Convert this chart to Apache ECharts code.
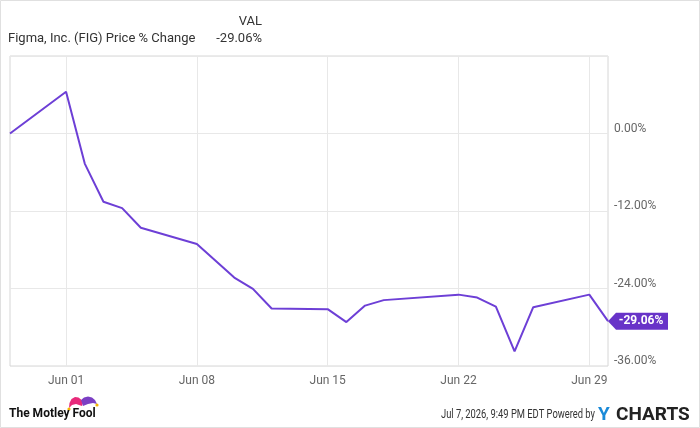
<!DOCTYPE html>
<html>
<head>
<meta charset="utf-8">
<script src="https://cdn.jsdelivr.net/npm/echarts@6/dist/echarts.min.js"></script>
<style>
  html, body { margin: 0; padding: 0; background: #fff; }
  #chart { width: 700px; height: 428px; }
</style>
</head>
<body>
<div id="chart"></div>
<script>
// FIG price % change, trading days (Jun 19 market holiday)
var dates = ['2026-05-29', '2026-06-01', '2026-06-02', '2026-06-03', '2026-06-04', '2026-06-05',
             '2026-06-08', '2026-06-09', '2026-06-10', '2026-06-11', '2026-06-12',
             '2026-06-15', '2026-06-16', '2026-06-17', '2026-06-18',
             '2026-06-22', '2026-06-23', '2026-06-24', '2026-06-25', '2026-06-26',
             '2026-06-29', '2026-06-30'];
var pctChange = [0, 6.46, -4.66, -10.56, -11.55, -14.6,
                 -17.1, -19.7, -22.3, -24.05, -27.1,
                 -27.2, -29.2, -26.65, -25.8,
                 -24.95, -25.4, -26.8, -33.75, -26.9,
                 -24.95, -29.06];
var xTicks = ['2026-06-01', '2026-06-08', '2026-06-15', '2026-06-22', '2026-06-29'];
var xMin = '2026-05-29', xMax = '2026-06-30';
var yMin = -36, yMax = 12, yStep = 12;

var font = 'Roboto, "DejaVu Sans", sans-serif';
var lineColor = '#6d3fd6';
var tagColor = '#6833c8';
var monthNames = ['Jan','Feb','Mar','Apr','May','Jun','Jul','Aug','Sep','Oct','Nov','Dec'];
var DAY = 86400000;

// day number since epoch, so the x axis is a plain linear value axis
function dayNum(s) {
  var p = s.split('-');
  return Math.round(Date.UTC(+p[0], +p[1] - 1, +p[2]) / DAY);
}

var seriesData = [];
for (var i = 0; i < dates.length; i++) {
  seriesData.push([dayNum(dates[i]), pctChange[i]]);
}
var last = seriesData[seriesData.length - 1];

var chart = echarts.init(document.getElementById('chart'), null, { renderer: 'canvas' });

chart.setOption({
  animation: false,
  backgroundColor: '#fff',
  textStyle: { fontFamily: font },
  grid: {
    left: 10, right: 92, top: 56, bottom: 62,
    show: true, borderColor: '#d6d6d6', borderWidth: 1,
    outerBoundsMode: 'none'
  },
  xAxis: {
    type: 'value',
    min: dayNum(xMin),
    max: dayNum(xMax),
    axisLine: { show: false },
    axisTick: { show: false, customValues: xTicks.map(dayNum) },
    splitLine: { show: true, lineStyle: { color: '#e8e8e8', width: 1 } },
    axisLabel: {
      customValues: xTicks.map(dayNum),
      color: '#666',
      fontSize: 12,
      fontFamily: font,
      margin: 9,
      formatter: function (v) {
        var d = new Date(v * DAY);
        var day = d.getUTCDate();
        return monthNames[d.getUTCMonth()] + ' ' + (day < 10 ? '0' + day : day);
      }
    }
  },
  yAxis: {
    type: 'value',
    position: 'right',
    min: yMin,
    max: yMax,
    interval: yStep,
    axisLine: { show: false },
    axisTick: { show: false },
    splitLine: { show: true, lineStyle: { color: '#e8e8e8', width: 1 } },
    axisLabel: {
      color: '#666',
      fontSize: 12,
      fontFamily: font,
      margin: 6,
      verticalAlign: 'bottom',
      lineHeight: 10,
      formatter: function (v) {
        if (v >= yMax) return '';
        return v.toFixed(2) + '%';
      }
    }
  },
  series: [{
    type: 'line',
    data: seriesData,
    symbol: 'none',
    lineStyle: { color: lineColor, width: 2 },
    itemStyle: { color: lineColor },
    markPoint: {
      silent: true,
      symbol: 'path://M0,8.5 L8,0 L60,0 L60,17 L8,17 Z',
      symbolSize: [60, 17],
      symbolOffset: [30, 0],
      symbolKeepAspect: false,
      itemStyle: { color: tagColor },
      label: {
        show: true,
        position: 'inside',
        offset: [3, 0],
        color: '#fff',
        fontSize: 12,
        fontWeight: 'bold',
        fontFamily: font,
        formatter: function (p) { return p.value.toFixed(2) + '%'; }
      },
      data: [{ coord: last, value: last[1] }]
    }
  }],
  graphic: [
    { type: 'rect', shape: { x: 0.5, y: 0.5, width: 699, height: 427 },
      style: { fill: 'none', stroke: '#e0e0e0', lineWidth: 1 }, z: 100 },
    { type: 'text', x: 8, y: 39,
      style: { text: 'Figma, Inc. (FIG) Price % Change', fill: '#333', font: '13px ' + font, verticalAlign: 'middle' } },
    { type: 'text', x: 262, y: 22,
      style: { text: 'VAL', fill: '#333', font: '13px ' + font, align: 'right', verticalAlign: 'middle' } },
    { type: 'text', x: 262, y: 39,
      style: { text: pctChange[pctChange.length - 1].toFixed(2) + '%', fill: '#333', font: '13px ' + font, align: 'right', verticalAlign: 'middle' } },
    // Motley Fool logo
    { type: 'polygon', shape: { points: [[69, 408], [69.5, 403], [71.5, 399], [75, 397], [78.5, 397.5], [81, 399.5], [83, 402], [82, 406], [76, 404], [72, 405]] },
      style: { fill: '#e8297a' } },
    { type: 'polygon', shape: { points: [[81, 400], [84, 397.5], [88, 396.5], [92, 397.5], [95, 400], [97, 404], [93, 403], [88, 404], [83, 406]] },
      style: { fill: '#7b3fc4' } },
    { type: 'circle', shape: { cx: 69, cy: 409, r: 1.6 }, style: { fill: '#f4b400' } },
    { type: 'circle', shape: { cx: 97, cy: 405, r: 1.6 }, style: { fill: '#f4b400' } },
    { type: 'text', x: 9, y: 414,
      style: { text: 'The Motley Fool', fill: '#111', font: 'bold 12px ' + font, verticalAlign: 'middle' } },
    // footer right (condensed look)
    { type: 'text', x: 595, y: 415, scaleX: 0.78,
      style: { text: 'Jul 7, 2026, 9:49 PM EDT Powered by', fill: '#333', font: '12px ' + font, align: 'right', verticalAlign: 'middle' } },
    { type: 'text', x: 598, y: 415,
      style: { text: 'Y', fill: '#1a8ad8', font: 'bold 19px ' + font, verticalAlign: 'middle' } },
    { type: 'text', x: 616, y: 415,
      style: { text: 'CHARTS', fill: '#222', font: 'bold 19px ' + font, verticalAlign: 'middle' } }
  ]
});
</script>
</body>
</html>
